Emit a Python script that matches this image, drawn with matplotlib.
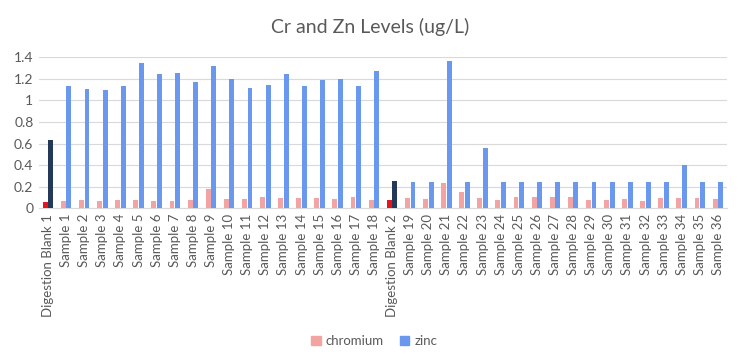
import matplotlib
matplotlib.use("Agg")
import matplotlib.pyplot as plt
import numpy as np
from matplotlib.patches import Patch

categories = (["Digestion Blank 1"] + [f"Sample {i}" for i in range(1, 19)]
              + ["Digestion Blank 2"] + [f"Sample {i}" for i in range(19, 37)])

chromium = [0.06, 0.065, 0.077, 0.065, 0.08, 0.08, 0.065, 0.071, 0.08, 0.182,
            0.083, 0.09, 0.105, 0.093, 0.096, 0.093, 0.09, 0.105, 0.08,
            0.077, 0.093, 0.087, 0.238, 0.155, 0.093, 0.074, 0.102, 0.102, 0.105,
            0.105, 0.077, 0.077, 0.09, 0.068, 0.099, 0.096, 0.096, 0.083]
zinc = [0.634, 1.134, 1.106, 1.094, 1.131, 1.347, 1.245, 1.258, 1.171, 1.323,
        1.196, 1.112, 1.143, 1.242, 1.134, 1.193, 1.196, 1.134, 1.273,
        0.253, 0.244, 0.244, 1.363, 0.244, 0.562, 0.244, 0.244, 0.244, 0.244,
        0.244, 0.244, 0.244, 0.244, 0.244, 0.244, 0.405, 0.244, 0.244]

yticks = [0, 0.2, 0.4, 0.6, 0.8, 1, 1.2, 1.4]
ytick_labels = ["0", "0.2", "0.4", "0.6", "0.8", "1", "1.2", "1.4"]

CR = "#F4A3A3"
ZN = "#6A98EE"
CR_BLANK = "#E8141C"
ZN_BLANK = "#24385A"
TXT = "#595959"

plt.rcParams['font.family'] = ['Lato', 'DejaVu Sans']

fig = plt.figure(figsize=(7.41, 3.64), dpi=100)
ax = fig.add_axes([0.0526, 0.4277, 0.9285, 0.415])

x = np.arange(len(categories))
w = 0.27
off = 0.155
cr_colors = [CR_BLANK if c.startswith("Digestion") else CR for c in categories]
zn_colors = [ZN_BLANK if c.startswith("Digestion") else ZN for c in categories]
ax.bar(x - off, chromium, width=w, color=cr_colors, zorder=3)
ax.bar(x + off, zinc, width=w, color=zn_colors, zorder=3)

ax.set_xlim(-0.5, len(categories) - 0.5)
ax.set_ylim(0, 1.4)
ax.set_yticks(yticks)
ax.set_yticklabels(ytick_labels, fontsize=10, color=TXT)
ax.set_xticks(x)
ax.set_xticklabels(categories, rotation=90, fontsize=9.5, color=TXT)
ax.tick_params(axis='both', length=0, pad=4)
ax.yaxis.grid(True, color="#D9D9D9", linewidth=0.8, zorder=0)
for s in ["top", "right", "left"]:
    ax.spines[s].set_visible(False)
ax.spines["bottom"].set_color("#D9D9D9")
ax.spines["bottom"].set_linewidth(0.8)

fig.text(0.5, 0.925, "Cr and Zn Levels (ug/L)", ha="center", va="center",
         fontsize=14, color=TXT)

handles = [Patch(color=CR, label="chromium"), Patch(color=ZN, label="zinc")]
fig.legend(handles=handles, loc="center", bbox_to_anchor=(0.505, 0.063), ncol=2,
           frameon=False, fontsize=9.5, handlelength=0.7, handleheight=0.7,
           handletextpad=0.4, columnspacing=1.2, labelcolor=TXT)

fig.savefig("out.png", dpi=100)
